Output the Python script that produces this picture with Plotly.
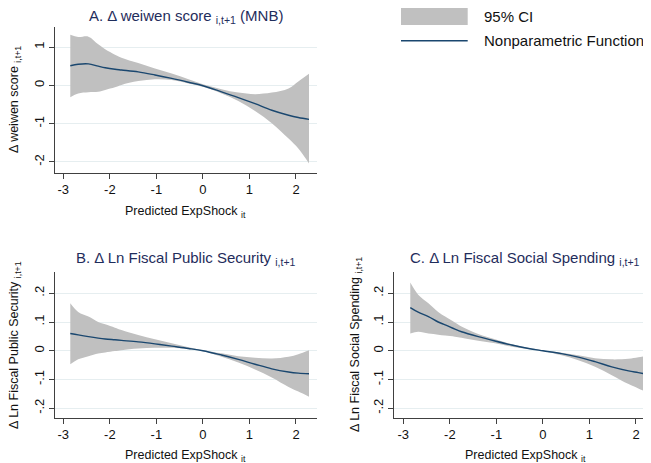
import plotly.graph_objects as go

# ---------------- data ----------------
x_grid = [-2.85, -2.68, -2.46, -2.25, -2.10, -1.89, -1.75, -1.39, -1.03, -0.67,
          -0.31, 0.0, 0.40, 0.76, 1.12, 1.48, 1.84, 2.05, 2.28]

a_fit = [0.51, 0.55, 0.56, 0.50, 0.46, 0.42, 0.40, 0.35, 0.27, 0.18,
         0.08, -0.01, -0.17, -0.32, -0.48, -0.65, -0.78, -0.84, -0.89]
a_hi = [1.32, 1.26, 1.27, 1.07, 0.94, 0.80, 0.72, 0.58, 0.44, 0.31,
        0.16, 0.03, -0.10, -0.19, -0.23, -0.19, -0.08, 0.10, 0.30]
a_lo = [-0.31, -0.21, -0.18, -0.17, -0.12, -0.05, 0.01, 0.11, 0.16, 0.14,
        0.05, -0.04, -0.21, -0.41, -0.67, -0.99, -1.39, -1.65, -2.04]

b_fit = [0.060, 0.055, 0.049, 0.044, 0.041, 0.038, 0.036, 0.031, 0.024, 0.016,
         0.008, 0.0, -0.015, -0.030, -0.047, -0.063, -0.074, -0.078, -0.080]
b_hi = [0.165, 0.135, 0.119, 0.100, 0.092, 0.080, 0.072, 0.055, 0.040, 0.026,
        0.012, 0.002, -0.009, -0.019, -0.024, -0.027, -0.021, -0.012, 0.002]
b_lo = [-0.047, -0.030, -0.019, -0.010, -0.006, -0.001, 0.002, 0.008, 0.010, 0.010,
        0.005, -0.002, -0.021, -0.041, -0.065, -0.093, -0.126, -0.142, -0.160]

c_fit = [0.150, 0.134, 0.119, 0.100, 0.090, 0.075, 0.066, 0.049, 0.034, 0.020,
         0.008, 0.0, -0.010, -0.022, -0.038, -0.056, -0.070, -0.076, -0.083]
c_hi = [0.237, 0.195, 0.165, 0.135, 0.119, 0.098, 0.084, 0.058, 0.040, 0.023,
        0.010, 0.002, -0.007, -0.016, -0.026, -0.030, -0.028, -0.023, -0.016]
c_lo = [0.060, 0.066, 0.060, 0.056, 0.053, 0.049, 0.045, 0.035, 0.026, 0.014,
        0.006, -0.002, -0.016, -0.033, -0.056, -0.085, -0.116, -0.131, -0.149]

x_ticks = [-3, -2, -1, 0, 1, 2]
x_ticklabels = ["-3", "-2", "-1", "0", "1", "2"]
a_ticks = [-2, -1, 0, 1]
a_ticklabels = ["-2", "-1", "0", "1"]
bc_ticks = [-0.2, -0.1, 0, 0.1, 0.2]
bc_ticklabels = ["-.2", "-.1", "0", ".1", ".2"]

legend_labels = ["95% CI", "Nonparametric Function"]

# ---------------- style ----------------
FONT = "Liberation Sans, Arial, sans-serif"
CI_COLOR = "#c0c0c0"
LINE_COLOR = "#1a476f"
GRID = "#e6eef0"
AXIS = "#404040"
TITLE_COLOR = "#1f2d5c"
PAGE_OFF = 8            # default page body margin
W, H = 651 - PAGE_OFF, 463 - PAGE_OFF

fig = go.Figure()

panels = [
    (a_fit, a_hi, a_lo, "x", "y"),
    (b_fit, b_hi, b_lo, "x2", "y2"),
    (c_fit, c_hi, c_lo, "x3", "y3"),
]
for fit, hi, lo, xa, ya in panels:
    fig.add_trace(go.Scatter(x=x_grid, y=lo, mode="lines", line=dict(width=0, shape="spline"),
                             xaxis=xa, yaxis=ya, showlegend=False, hoverinfo="skip"))
    fig.add_trace(go.Scatter(x=x_grid, y=hi, mode="lines", line=dict(width=0, shape="spline"),
                             fill="tonexty", fillcolor=CI_COLOR,
                             xaxis=xa, yaxis=ya, showlegend=False, hoverinfo="skip"))
    fig.add_trace(go.Scatter(x=x_grid, y=fit, mode="lines",
                             line=dict(color=LINE_COLOR, width=1.4, shape="spline"),
                             xaxis=xa, yaxis=ya, showlegend=False))


def px_x(p):
    return (p - PAGE_OFF) / W


def px_y(p):
    return 1 - (p - PAGE_OFF) / H


common_x = dict(tickmode="array", tickvals=x_ticks, ticktext=x_ticklabels,
                showline=True, linecolor=AXIS, linewidth=1, ticks="outside",
                ticklen=5, tickcolor=AXIS, showgrid=False, zeroline=False,
                tickfont=dict(family=FONT, size=13, color="#111"))
common_y = dict(showline=True, linecolor=AXIS, linewidth=1, ticks="outside",
                ticklen=5, tickcolor=AXIS, showgrid=True, gridcolor=GRID, gridwidth=1,
                zeroline=False, tickangle=-90,
                tickfont=dict(family=FONT, size=13, color="#111"))

ab_dom = [px_x(54.7), px_x(316.7)]
c_dom = [px_x(394), px_x(649.3)]
top_dom = [px_y(172.7), px_y(26.7)]
bot_dom = [px_y(417.7), px_y(271.7)]

fig.update_layout(
    width=W, height=H,
    margin=dict(l=0, r=0, t=0, b=0),
    paper_bgcolor="white", plot_bgcolor="white",
    font=dict(family=FONT),
    showlegend=False,
    xaxis=dict(domain=ab_dom, range=[-3.185, 2.445], anchor="y", **common_x),
    yaxis=dict(domain=top_dom, range=[-2.28, 1.53], anchor="x",
               tickmode="array", tickvals=a_ticks, ticktext=a_ticklabels, **common_y),
    xaxis2=dict(domain=ab_dom, range=[-3.185, 2.445], anchor="y2", **common_x),
    yaxis2=dict(domain=bot_dom, range=[-0.233, 0.275], anchor="x2",
                tickmode="array", tickvals=bc_ticks, ticktext=bc_ticklabels, **common_y),
    xaxis3=dict(domain=c_dom, range=[-3.2, 2.286], anchor="y3", **common_x),
    yaxis3=dict(domain=bot_dom, range=[-0.233, 0.275], anchor="x3",
                tickmode="array", tickvals=bc_ticks, ticktext=bc_ticklabels, **common_y),
)

SUB = "<sub>%s</sub>"
annos = []


def add_text(txt, x, y, size, color="#111", angle=0, xanchor="center"):
    annos.append(dict(text=txt, x=px_x(x), y=px_y(y), xref="paper", yref="paper",
                      xanchor=xanchor, yanchor="middle", showarrow=False, textangle=angle,
                      borderpad=0,
                      font=dict(family=FONT, size=size, color=color)))


# panel titles
add_text("A. Δ weiwen score " + SUB % "i,t+1" + " (MNB)", 185.5, 16, 15, TITLE_COLOR)
add_text("B. Δ Ln Fiscal Public Security " + SUB % "i,t+1", 186, 258, 15, TITLE_COLOR)
add_text("C. Δ Ln Fiscal Social Spending " + SUB % "i,t+1", 525, 258, 15, TITLE_COLOR)

# x axis titles
xt = "Predicted ExpShock " + SUB % "it"
add_text(xt, 185.5, 212, 12.5)
add_text(xt, 185.5, 456, 12.5)
add_text(xt, 525.5, 456, 12.5)

# y axis titles
add_text("Δ weiwen score " + SUB % "i,t+1", 15, 100, 12.5, angle=-90)
add_text("Δ Ln Fiscal Public Security " + SUB % "i,t+1", 15, 345, 12.5, angle=-90)
add_text("Δ Ln Fiscal Social Spending " + SUB % "i,t+1", 356, 345, 12.5, angle=-90)

# legend (drawn as key shapes + labels)
add_text(legend_labels[0], 482.7, 16, 15, xanchor="left")
add_text(legend_labels[1], 482.7, 41, 15, xanchor="left")
fig.update_layout(annotations=annos)
fig.add_shape(type="rect", xref="paper", yref="paper",
              x0=px_x(401), x1=px_x(467.7), y0=px_y(25), y1=px_y(6.7),
              fillcolor=CI_COLOR, line=dict(width=0))
fig.add_shape(type="line", xref="paper", yref="paper",
              x0=px_x(401), x1=px_x(467.7), y0=px_y(40.7), y1=px_y(40.7),
              line=dict(color=LINE_COLOR, width=1.4))

fig.write_html("out.html")
